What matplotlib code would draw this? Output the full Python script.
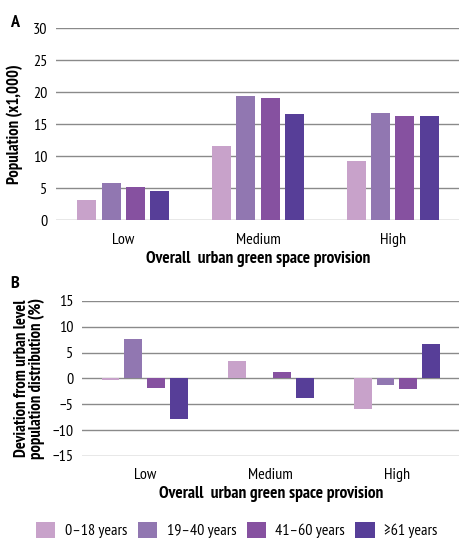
import matplotlib
matplotlib.use("Agg")
import matplotlib.pyplot as plt
import numpy as np
from matplotlib.patches import Patch

plt.rcParams['font.family'] = ['PT Sans Narrow', 'DejaVu Sans']

categories = ["Low", "Medium", "High"]
age_groups = ["0\u201318 years", "19\u201340 years", "41\u201360 years", "\u226561 years"]
colors = ["#C8A2CA", "#9177B1", "#8651A0", "#573E98"]

pop = {
    "0\u201318 years": [3.1, 11.6, 9.2],
    "19\u201340 years": [5.8, 19.4, 16.8],
    "41\u201360 years": [5.1, 19.1, 16.2],
    "\u226561 years": [4.5, 16.6, 16.3],
}
dev = {
    "0\u201318 years": [-0.2, 3.35, -6.0],
    "19\u201340 years": [7.55, 0.0, -1.25],
    "41\u201360 years": [-1.75, 1.35, -2.0],
    "\u226561 years": [-7.75, -3.8, 6.75],
}

fig = plt.figure(figsize=(4.6, 5.39), dpi=100)
axA = fig.add_axes([0.1217, 0.5918, 0.8783, 0.3557])
axB = fig.add_axes([0.1776, 0.1540, 0.8224, 0.2876])

x = np.arange(len(categories))
w = 0.142
step = 0.181
offsets = (np.arange(4) - 1.5) * step

fs = 11.5
fsb = 12.5
for ax, data, ylim, yticks, lp in [(axA, pop, (0, 30), range(0, 31, 5), 3.5),
                                   (axB, dev, (-15, 15), range(-15, 16, 5), 2.5)]:
    for i, g in enumerate(age_groups):
        ax.bar(x + offsets[i], data[g], width=w, color=colors[i],
               edgecolor="none", linewidth=0, zorder=3)
    ax.set_xlim(-0.5, 2.5)
    ax.set_ylim(*ylim)
    ax.set_yticks(list(yticks))
    ax.set_xticks(x)
    ax.set_xticklabels(categories, fontsize=fs)
    ax.tick_params(axis='both', length=0, labelsize=fs, pad=6)
    ax.tick_params(axis='x', pad=9)
    ax.yaxis.grid(True, color="#8a8a8a", linewidth=1.0, zorder=0)
    for s in ax.spines.values():
        s.set_visible(False)
    ax.set_xlabel("Overall  urban green space provision", fontsize=fsb,
                  fontweight='bold', labelpad=lp)

axA.set_ylabel("Population (x1,000)", fontsize=12, fontweight='bold', labelpad=7)
axB.set_ylabel("Deviation from urban level\npopulation distribution (%)",
               fontsize=12, fontweight='bold', labelpad=5, linespacing=0.88)

fig.text(0.022, 0.972, "A", fontsize=13, fontweight='bold', va='top')
fig.text(0.022, 0.488, "B", fontsize=13, fontweight='bold', va='top')

handles = [Patch(facecolor=c, edgecolor='none', label=g) for c, g in zip(colors, age_groups)]
fig.legend(handles=handles, loc='center', bbox_to_anchor=(0.515, 0.017), ncol=4,
           frameon=False, fontsize=fs, handlelength=1.2, handleheight=1.2,
           handletextpad=0.6, columnspacing=0.65)

fig.savefig("out.png", dpi=100)
